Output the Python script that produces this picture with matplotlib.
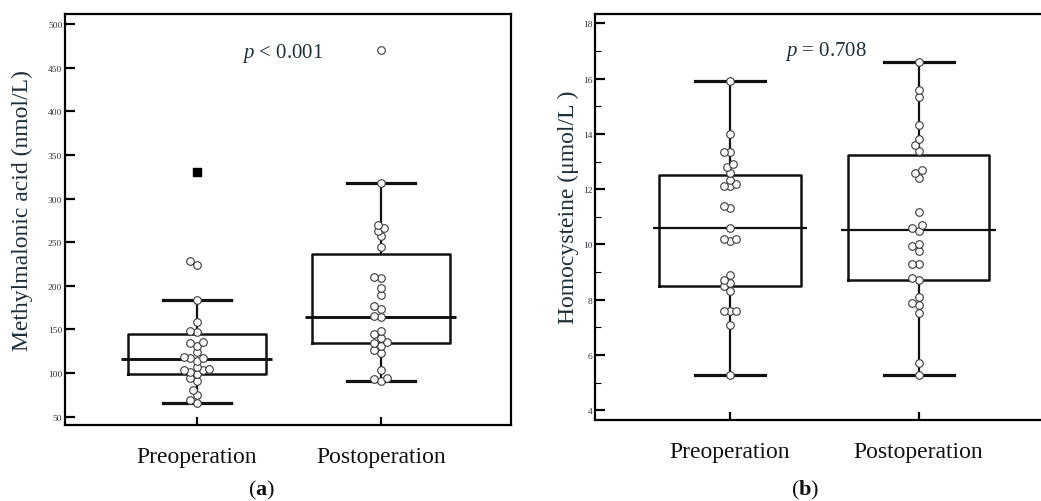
import numpy as np
import matplotlib.pyplot as plt

plt.rcParams['font.family'] = ['Liberation Serif', 'DejaVu Serif']
plt.rcParams['mathtext.fontset'] = 'custom'
plt.rcParams['mathtext.rm'] = 'Liberation Serif'
plt.rcParams['mathtext.it'] = 'Liberation Serif:italic'
plt.rcParams['mathtext.bf'] = 'Liberation Serif:bold'

groups = ['Preoperation', 'Postoperation']
positions = [1, 2]

# Methylmalonic acid, nmol/L (one value per patient)
mma_pre = [66, 69, 75, 81, 91, 94, 99, 101, 103, 104, 105, 107, 114, 117, 117, 118,
           124, 131, 135, 136, 147, 148, 158, 184, 224, 229, 331]
mma_post = [91, 93, 94, 103, 123, 126, 131, 135, 136, 140, 145, 148, 164, 165, 173,
            177, 190, 198, 209, 210, 244, 257, 263, 266, 270, 318, 470]
mma_lo = [66, 91]
mma_q1 = [99, 134]
mma_med = [116.5, 164.5]
mma_q3 = [145, 236]
mma_hi = [184, 318]

# Homocysteine, umol/L
hcy_pre = [5.29, 7.08, 7.58, 7.58, 7.58, 8.33, 8.5, 8.62, 8.72, 8.91, 10.12, 10.19, 10.19,
           10.6, 11.32, 11.4, 12.1, 12.1, 12.19, 12.34, 12.6, 12.8, 12.92, 13.33, 13.33,
           14.0, 15.91]
hcy_post = [5.29, 5.73, 7.51, 7.8, 7.9, 8.09, 8.7, 8.79, 9.3, 9.3, 9.78, 9.93, 10.0, 10.5,
            10.6, 10.7, 11.19, 12.39, 12.6, 12.7, 13.4, 13.6, 13.81, 14.32, 15.32, 15.6,
            16.61]
hcy_lo = [5.28, 5.28]
hcy_q1 = [8.51, 8.72]
hcy_med = [10.6, 10.53]
hcy_q3 = [12.51, 13.23]
hcy_hi = [15.93, 16.62]

ink = '#111111'
txt = '#1e2f3c'


def swarm_x(ax, pos, values, d=6.4):
    # simple beeswarm in pixel space
    trans = ax.transData
    inv = trans.inverted()
    cx = trans.transform((pos, 0))[0]
    steps = d * np.array([0, -0.5, 0.5, -1, 1, -1.5, 1.5, -2, 2, -2.5, 2.5])
    placed = []
    xs = []
    for v in values:
        y = trans.transform((pos, v))[1]
        for dx in steps:
            if all(np.hypot(cx + dx - px, y - py) >= d * 0.92 for px, py in placed):
                break
        placed.append((cx + dx, y))
        xs.append(inv.transform((cx + dx, y))[0])
    return np.array(xs)


def panel(ax, data, lo, q1, med, q3, hi, ylim, yticks, minor=None, medlw=1.9):
    ax.set_xlim(0.285, 2.707)
    ax.set_ylim(*ylim)
    stats = []
    for i in range(2):
        stats.append(dict(whislo=lo[i], q1=q1[i], med=med[i], q3=q3[i], whishi=hi[i]))
    ax.bxp(stats, positions=positions, widths=0.75, capwidths=0.37, showfliers=False,
           boxprops=dict(color=ink, linewidth=1.8),
           whiskerprops=dict(color=ink, linewidth=1.6),
           capprops=dict(color=ink, linewidth=2.3),
           medianprops=dict(linewidth=0), zorder=2)
    for i in range(2):
        ax.hlines(med[i], positions[i] - 0.41, positions[i] + 0.41, color=ink,
                  linewidth=medlw, zorder=3)
    for i, vals in enumerate(data):
        vals = np.sort(np.array(vals, dtype=float))
        iqr = q3[i] - q1[i]
        far = vals > q3[i] + 3 * iqr
        xs = swarm_x(ax, positions[i], vals)
        ax.scatter(xs[~far], vals[~far], s=30, marker='o', facecolor='white',
                   edgecolor='#3a3a3a', linewidth=0.8, zorder=4)
        ax.scatter(xs[far], vals[far], s=26, marker='s', color='black', zorder=4)
    ax.set_yticks(yticks)
    if minor is not None:
        ax.set_yticks(minor, minor=True)
    ax.set_xticks(positions)
    ax.set_xticklabels(groups)
    ax.tick_params(axis='y', which='major', direction='in', length=7, width=1.6,
                   labelsize=6.8, pad=2, labelcolor='#333340')
    ax.tick_params(axis='y', which='minor', direction='in', length=4, width=0.8)
    ax.tick_params(axis='x', direction='in', length=6, width=1.6, labelsize=17,
                   pad=15, labelcolor=ink)
    for s in ax.spines.values():
        s.set_linewidth(1.6)


fig = plt.figure(figsize=(10.41, 5.02), dpi=100)

ax1 = fig.add_axes([65 / 1041, 1 - 426 / 502, 446 / 1041, 411 / 502])
panel(ax1, [mma_pre, mma_post], mma_lo, mma_q1, mma_med, mma_q3, mma_hi,
      (40.5, 511.5), np.arange(50, 501, 50), medlw=2.1)
ax1.text(0.489, 0.907, r'$\mathit{p}$ < 0.001', transform=ax1.transAxes,
         ha='center', va='center', fontsize=15, color=txt)
fig.text(22 / 1041, 1 - 211 / 502, 'Methylmalonic acid (nmol/L)', rotation=90,
         ha='center', va='center', fontsize=17, color=txt)
fig.text(262 / 1041, 1 - 490 / 502, r'($\mathbf{a}$)', ha='center', va='center',
         fontsize=16, color=ink)

ax2 = fig.add_axes([595 / 1041, 1 - 421 / 502, 457 / 1041, 406 / 502])
panel(ax2, [hcy_pre, hcy_post], hcy_lo, hcy_q1, hcy_med, hcy_q3, hcy_hi,
      (3.65, 18.34), np.arange(4, 19, 2), minor=np.arange(5, 18, 2), medlw=1.6)
ax2.text(0.505, 0.909, r'$\mathit{p}$ = 0.708', transform=ax2.transAxes,
         ha='center', va='center', fontsize=15, color=txt)
fig.text(568 / 1041, 1 - 207 / 502, 'Homocysteine (μmol/L )', rotation=90,
         ha='center', va='center', fontsize=17, color=txt)
fig.text(805 / 1041, 1 - 490 / 502, r'($\mathbf{b}$)', ha='center', va='center',
         fontsize=16, color=ink)

fig.savefig('out.png', dpi=100, facecolor='white')
